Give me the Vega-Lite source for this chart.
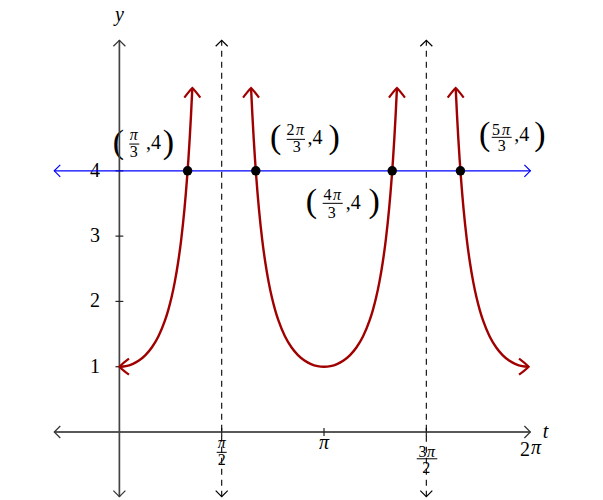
{
  "$schema": "https://vega.github.io/schema/vega-lite/v6.json",
  "width": 603,
  "height": 500,
  "autosize": "none",
  "padding": 0,
  "background": "white",
  "config": {"view": {"stroke": null}},
  "encoding": {
    "x": {"field": "t", "type": "quantitative", "scale": {"domain": [-1.833, 7.425], "nice": false, "zero": false}, "axis": null},
    "y": {"field": "y", "type": "quantitative", "scale": {"domain": [-1.041, 6.616], "nice": false, "zero": false}, "axis": null}
  },
  "layer": [
    {
      "data": {"values": [
        {"t": -0.375, "y": 1, "s": "1"},
        {"t": -0.375, "y": 2, "s": "2"},
        {"t": -0.375, "y": 3, "s": "3"},
        {"t": -0.375, "y": 4, "s": "4"},
        {"t": 6.228, "y": -0.27, "s": "2"}
      ]},
      "mark": {"type": "text", "font": "Liberation Serif", "fontSize": 20, "align": "center", "baseline": "middle", "color": "black"},
      "encoding": {"text": {"field": "s"}}
    },
    {
      "data": {"values": [
        {"t": 3.1416, "y": -0.161, "s": "π"},
        {"t": 6.397, "y": -0.25, "s": "π"},
        {"t": 6.543, "y": 0.005, "s": "t"},
        {"t": 0.0, "y": 6.389, "s": "y"}
      ]},
      "mark": {"type": "text", "font": "Liberation Serif", "fontStyle": "italic", "fontSize": 20, "align": "center", "baseline": "middle", "color": "black"},
      "encoding": {"text": {"field": "s"}}
    },
    {
      "data": {"values": [
        {"t": 1.571, "y": -0.421, "s": "2"},
        {"t": 4.654, "y": -0.299, "s": "3"},
        {"t": 4.712, "y": -0.551, "s": "2"},
        {"t": 0.2196, "y": 4.288, "s": "3"},
        {"t": 2.627, "y": 4.625, "s": "2"},
        {"t": 2.722, "y": 4.364, "s": "3"},
        {"t": 3.195, "y": 3.63, "s": "4"},
        {"t": 3.26, "y": 3.349, "s": "3"},
        {"t": 5.782, "y": 4.632, "s": "5"},
        {"t": 5.87, "y": 4.38, "s": "3"}
      ]},
      "mark": {"type": "text", "font": "Liberation Serif", "fontSize": 16, "align": "center", "baseline": "middle", "color": "black"},
      "encoding": {"text": {"field": "s"}}
    },
    {
      "data": {"values": [
        {"t": 1.571, "y": -0.168, "s": "π"},
        {"t": 4.784, "y": -0.299, "s": "π"},
        {"t": 0.2196, "y": 4.545, "s": "π"},
        {"t": 2.773, "y": 4.625, "s": "π"},
        {"t": 3.341, "y": 3.63, "s": "π"},
        {"t": 5.936, "y": 4.632, "s": "π"}
      ]},
      "mark": {"type": "text", "font": "Liberation Serif", "fontStyle": "italic", "fontSize": 16, "align": "center", "baseline": "middle", "color": "black"},
      "encoding": {"text": {"field": "s"}}
    },
    {
      "data": {"values": [
        {"t": 0.408, "y": 4.426, "s": ",4"},
        {"t": 2.888, "y": 4.51, "s": ",4"},
        {"t": 3.476, "y": 3.502, "s": ",4"},
        {"t": 6.062, "y": 4.548, "s": ",4"}
      ]},
      "mark": {"type": "text", "font": "Liberation Serif", "fontSize": 20, "align": "left", "baseline": "middle", "color": "black"},
      "encoding": {"text": {"field": "s"}}
    },
    {
      "data": {"values": [
        {"t": -0.017, "y": 4.426, "s": "("},
        {"t": 0.751, "y": 4.426, "s": ")"},
        {"t": 2.401, "y": 4.502, "s": "("},
        {"t": 3.298, "y": 4.502, "s": ")"},
        {"t": 2.95, "y": 3.515, "s": "("},
        {"t": 3.912, "y": 3.515, "s": ")"},
        {"t": 5.607, "y": 4.553, "s": "("},
        {"t": 6.458, "y": 4.553, "s": ")"}
      ]},
      "mark": {"type": "text", "font": "Liberation Serif", "fontSize": 34, "align": "center", "baseline": "middle", "color": "black"},
      "encoding": {"text": {"field": "s"}}
    },
    {
      "data": {"values": [
        {"t": 1.494, "t2": 1.647, "y": -0.311},
        {"t": 4.565, "t2": 4.881, "y": -0.41},
        {"t": 0.152, "t2": 0.306, "y": 4.41},
        {"t": 2.569, "t2": 2.85, "y": 4.482},
        {"t": 3.121, "t2": 3.429, "y": 3.502},
        {"t": 5.716, "t2": 6.023, "y": 4.513}
      ]},
      "mark": {"type": "rule", "color": "black", "strokeWidth": 1},
      "encoding": {"x2": {"field": "t2"}}
    },
    {
      "data": {"values": [
        {"t": -1.0, "t2": 6.31, "y": 0, "y2": 0}
      ]},
      "mark": {"type": "rule", "color": "#222222", "strokeWidth": 1.3},
      "encoding": {"x2": {"field": "t2"}, "y2": {"field": "y2"}}
    },
    {
      "data": {"values": [
        {"t": 0, "t2": 0, "y": -0.99, "y2": 6.0}
      ]},
      "mark": {"type": "rule", "color": "#444444", "strokeWidth": 1.7},
      "encoding": {"x2": {"field": "t2"}, "y2": {"field": "y2"}}
    },
    {
      "data": {"values": [
        {"t": -0.06, "t2": 0.06, "y": 1, "y2": 1},
        {"t": -0.06, "t2": 0.06, "y": 2, "y2": 2},
        {"t": -0.06, "t2": 0.06, "y": 3, "y2": 3},
        {"t": -0.06, "t2": 0.06, "y": 4, "y2": 4},
        {"t": 1.5708, "t2": 1.5708, "y": -0.06, "y2": 0.06},
        {"t": 3.1416, "t2": 3.1416, "y": -0.06, "y2": 0.06},
        {"t": 4.7124, "t2": 4.7124, "y": -0.06, "y2": 0.06}
      ]},
      "mark": {"type": "rule", "color": "#222222", "strokeWidth": 1.2},
      "encoding": {"x2": {"field": "t2"}, "y2": {"field": "y2"}}
    },
    {
      "data": {"values": [
        {"t": 1.5708, "t2": 1.5708, "y": -0.99, "y2": 6.0},
        {"t": 4.7124, "t2": 4.7124, "y": -0.99, "y2": 6.0}
      ]},
      "mark": {"type": "rule", "color": "black", "strokeWidth": 1.1, "strokeDash": [6, 5]},
      "encoding": {"x2": {"field": "t2"}, "y2": {"field": "y2"}}
    },
    {
      "data": {"values": [
        {"t": -1.0, "t2": 6.31, "y": 4, "y2": 4}
      ]},
      "mark": {"type": "rule", "color": "#0000ff", "strokeWidth": 1.3},
      "encoding": {"x2": {"field": "t2"}, "y2": {"field": "y2"}}
    },
    {
      "data": {"values": [
        {"t": -1.0, "y": 0, "dir": "left", "kind": "axis"},
        {"t": 6.31, "y": 0, "dir": "right", "kind": "axis"},
        {"t": 0, "y": 6.0, "dir": "up", "kind": "axis"},
        {"t": 0, "y": -0.99, "dir": "down", "kind": "axis"},
        {"t": 1.5708, "y": 6.0, "dir": "up", "kind": "asym"},
        {"t": 1.5708, "y": -0.99, "dir": "down", "kind": "asym"},
        {"t": 4.7124, "y": 6.0, "dir": "up", "kind": "asym"},
        {"t": 4.7124, "y": -0.99, "dir": "down", "kind": "asym"},
        {"t": -1.0, "y": 4, "dir": "left", "kind": "level"},
        {"t": 6.31, "y": 4, "dir": "right", "kind": "level"}
      ]},
      "mark": {"type": "point", "shape": "M -1 1 L 0 0 L 1 1", "filled": false, "size": 144, "strokeWidth": 1.2, "opacity": 1},
      "encoding": {
        "angle": {"field": "dir", "type": "nominal", "scale": {"type": "ordinal", "domain": ["up", "right", "down", "left"], "range": [0, 90, 180, 270]}, "legend": null},
        "color": {"field": "kind", "type": "nominal", "scale": {"domain": ["axis", "asym", "level"], "range": ["#333333", "#000000", "#0000ff"]}, "legend": null}
      }
    },
    {
      "data": {"values": [
        {"b": "a", "t": 0.0, "y": 1.0},
        {"b": "a", "t": 0.1, "y": 1.0101},
        {"b": "a", "t": 0.2, "y": 1.0411},
        {"b": "a", "t": 0.3, "y": 1.0957},
        {"b": "a", "t": 0.4, "y": 1.1788},
        {"b": "a", "t": 0.5, "y": 1.2985},
        {"b": "a", "t": 0.6, "y": 1.468},
        {"b": "a", "t": 0.7, "y": 1.7095},
        {"b": "a", "t": 0.75, "y": 1.8679},
        {"b": "a", "t": 0.8, "y": 2.0602},
        {"b": "a", "t": 0.85, "y": 2.2958},
        {"b": "a", "t": 0.9, "y": 2.588},
        {"b": "a", "t": 0.95, "y": 2.9555},
        {"b": "a", "t": 1.0, "y": 3.4255},
        {"b": "a", "t": 1.02, "y": 3.6508},
        {"b": "a", "t": 1.04, "y": 3.9023},
        {"b": "a", "t": 1.06, "y": 4.1842},
        {"b": "a", "t": 1.08, "y": 4.5015},
        {"b": "a", "t": 1.1, "y": 4.8603},
        {"b": "a", "t": 1.12, "y": 5.2682},
        {"b": "b", "t": 2.0216, "y": 5.2682},
        {"b": "b", "t": 2.0416, "y": 4.8603},
        {"b": "b", "t": 2.0616, "y": 4.5015},
        {"b": "b", "t": 2.0816, "y": 4.1842},
        {"b": "b", "t": 2.1016, "y": 3.9023},
        {"b": "b", "t": 2.1216, "y": 3.6508},
        {"b": "b", "t": 2.1416, "y": 3.4255},
        {"b": "b", "t": 2.1916, "y": 2.9555},
        {"b": "b", "t": 2.2416, "y": 2.588},
        {"b": "b", "t": 2.2916, "y": 2.2958},
        {"b": "b", "t": 2.3416, "y": 2.0602},
        {"b": "b", "t": 2.3916, "y": 1.8679},
        {"b": "b", "t": 2.4416, "y": 1.7095},
        {"b": "b", "t": 2.5416, "y": 1.468},
        {"b": "b", "t": 2.6416, "y": 1.2985},
        {"b": "b", "t": 2.7416, "y": 1.1788},
        {"b": "b", "t": 2.8416, "y": 1.0957},
        {"b": "b", "t": 2.9416, "y": 1.0411},
        {"b": "b", "t": 3.0416, "y": 1.0101},
        {"b": "b", "t": 3.1416, "y": 1.0},
        {"b": "b", "t": 3.2416, "y": 1.0101},
        {"b": "b", "t": 3.3416, "y": 1.0411},
        {"b": "b", "t": 3.4416, "y": 1.0957},
        {"b": "b", "t": 3.5416, "y": 1.1788},
        {"b": "b", "t": 3.6416, "y": 1.2985},
        {"b": "b", "t": 3.7416, "y": 1.468},
        {"b": "b", "t": 3.8416, "y": 1.7095},
        {"b": "b", "t": 3.8916, "y": 1.8679},
        {"b": "b", "t": 3.9416, "y": 2.0602},
        {"b": "b", "t": 3.9916, "y": 2.2958},
        {"b": "b", "t": 4.0416, "y": 2.588},
        {"b": "b", "t": 4.0916, "y": 2.9555},
        {"b": "b", "t": 4.1416, "y": 3.4255},
        {"b": "b", "t": 4.1616, "y": 3.6508},
        {"b": "b", "t": 4.1816, "y": 3.9023},
        {"b": "b", "t": 4.2016, "y": 4.1842},
        {"b": "b", "t": 4.2216, "y": 4.5015},
        {"b": "b", "t": 4.2416, "y": 4.8603},
        {"b": "b", "t": 4.2616, "y": 5.2682},
        {"b": "c", "t": 5.1632, "y": 5.2682},
        {"b": "c", "t": 5.1832, "y": 4.8603},
        {"b": "c", "t": 5.2032, "y": 4.5015},
        {"b": "c", "t": 5.2232, "y": 4.1842},
        {"b": "c", "t": 5.2432, "y": 3.9023},
        {"b": "c", "t": 5.2632, "y": 3.6508},
        {"b": "c", "t": 5.2832, "y": 3.4255},
        {"b": "c", "t": 5.3332, "y": 2.9555},
        {"b": "c", "t": 5.3832, "y": 2.588},
        {"b": "c", "t": 5.4332, "y": 2.2958},
        {"b": "c", "t": 5.4832, "y": 2.0602},
        {"b": "c", "t": 5.5332, "y": 1.8679},
        {"b": "c", "t": 5.5832, "y": 1.7095},
        {"b": "c", "t": 5.6832, "y": 1.468},
        {"b": "c", "t": 5.7832, "y": 1.2985},
        {"b": "c", "t": 5.8832, "y": 1.1788},
        {"b": "c", "t": 5.9832, "y": 1.0957},
        {"b": "c", "t": 6.0832, "y": 1.0411},
        {"b": "c", "t": 6.1832, "y": 1.0101},
        {"b": "c", "t": 6.2832, "y": 1.0}
      ]},
      "mark": {"type": "line", "color": "#a00000", "strokeWidth": 2.4, "interpolate": "monotone"},
      "encoding": {"detail": {"field": "b"}, "order": {"field": "t", "type": "quantitative"}}
    },
    {
      "data": {"values": [
        {"t": 0.0, "y": 1.0, "dir": "left"},
        {"t": 1.12, "y": 5.2682, "dir": "up"},
        {"t": 2.0216, "y": 5.2682, "dir": "up"},
        {"t": 4.2616, "y": 5.2682, "dir": "up"},
        {"t": 5.1632, "y": 5.2682, "dir": "up"},
        {"t": 6.2832, "y": 1.0, "dir": "right"}
      ]},
      "mark": {"type": "point", "shape": "M -1 1.2 Q -0.4 0.4 0 0 Q 0.4 0.4 1 1.2", "filled": false, "size": 256, "strokeWidth": 2.2, "color": "#a00000", "opacity": 1},
      "encoding": {
        "angle": {"field": "dir", "type": "nominal", "scale": {"type": "ordinal", "domain": ["up", "right", "down", "left"], "range": [0, 90, 180, 270]}, "legend": null}
      }
    },
    {
      "data": {"values": [
        {"t": 1.0472, "y": 4},
        {"t": 2.0944, "y": 4},
        {"t": 4.1888, "y": 4},
        {"t": 5.236, "y": 4}
      ]},
      "mark": {"type": "point", "shape": "circle", "filled": true, "size": 90, "color": "black", "opacity": 1}
    }
  ]
}
